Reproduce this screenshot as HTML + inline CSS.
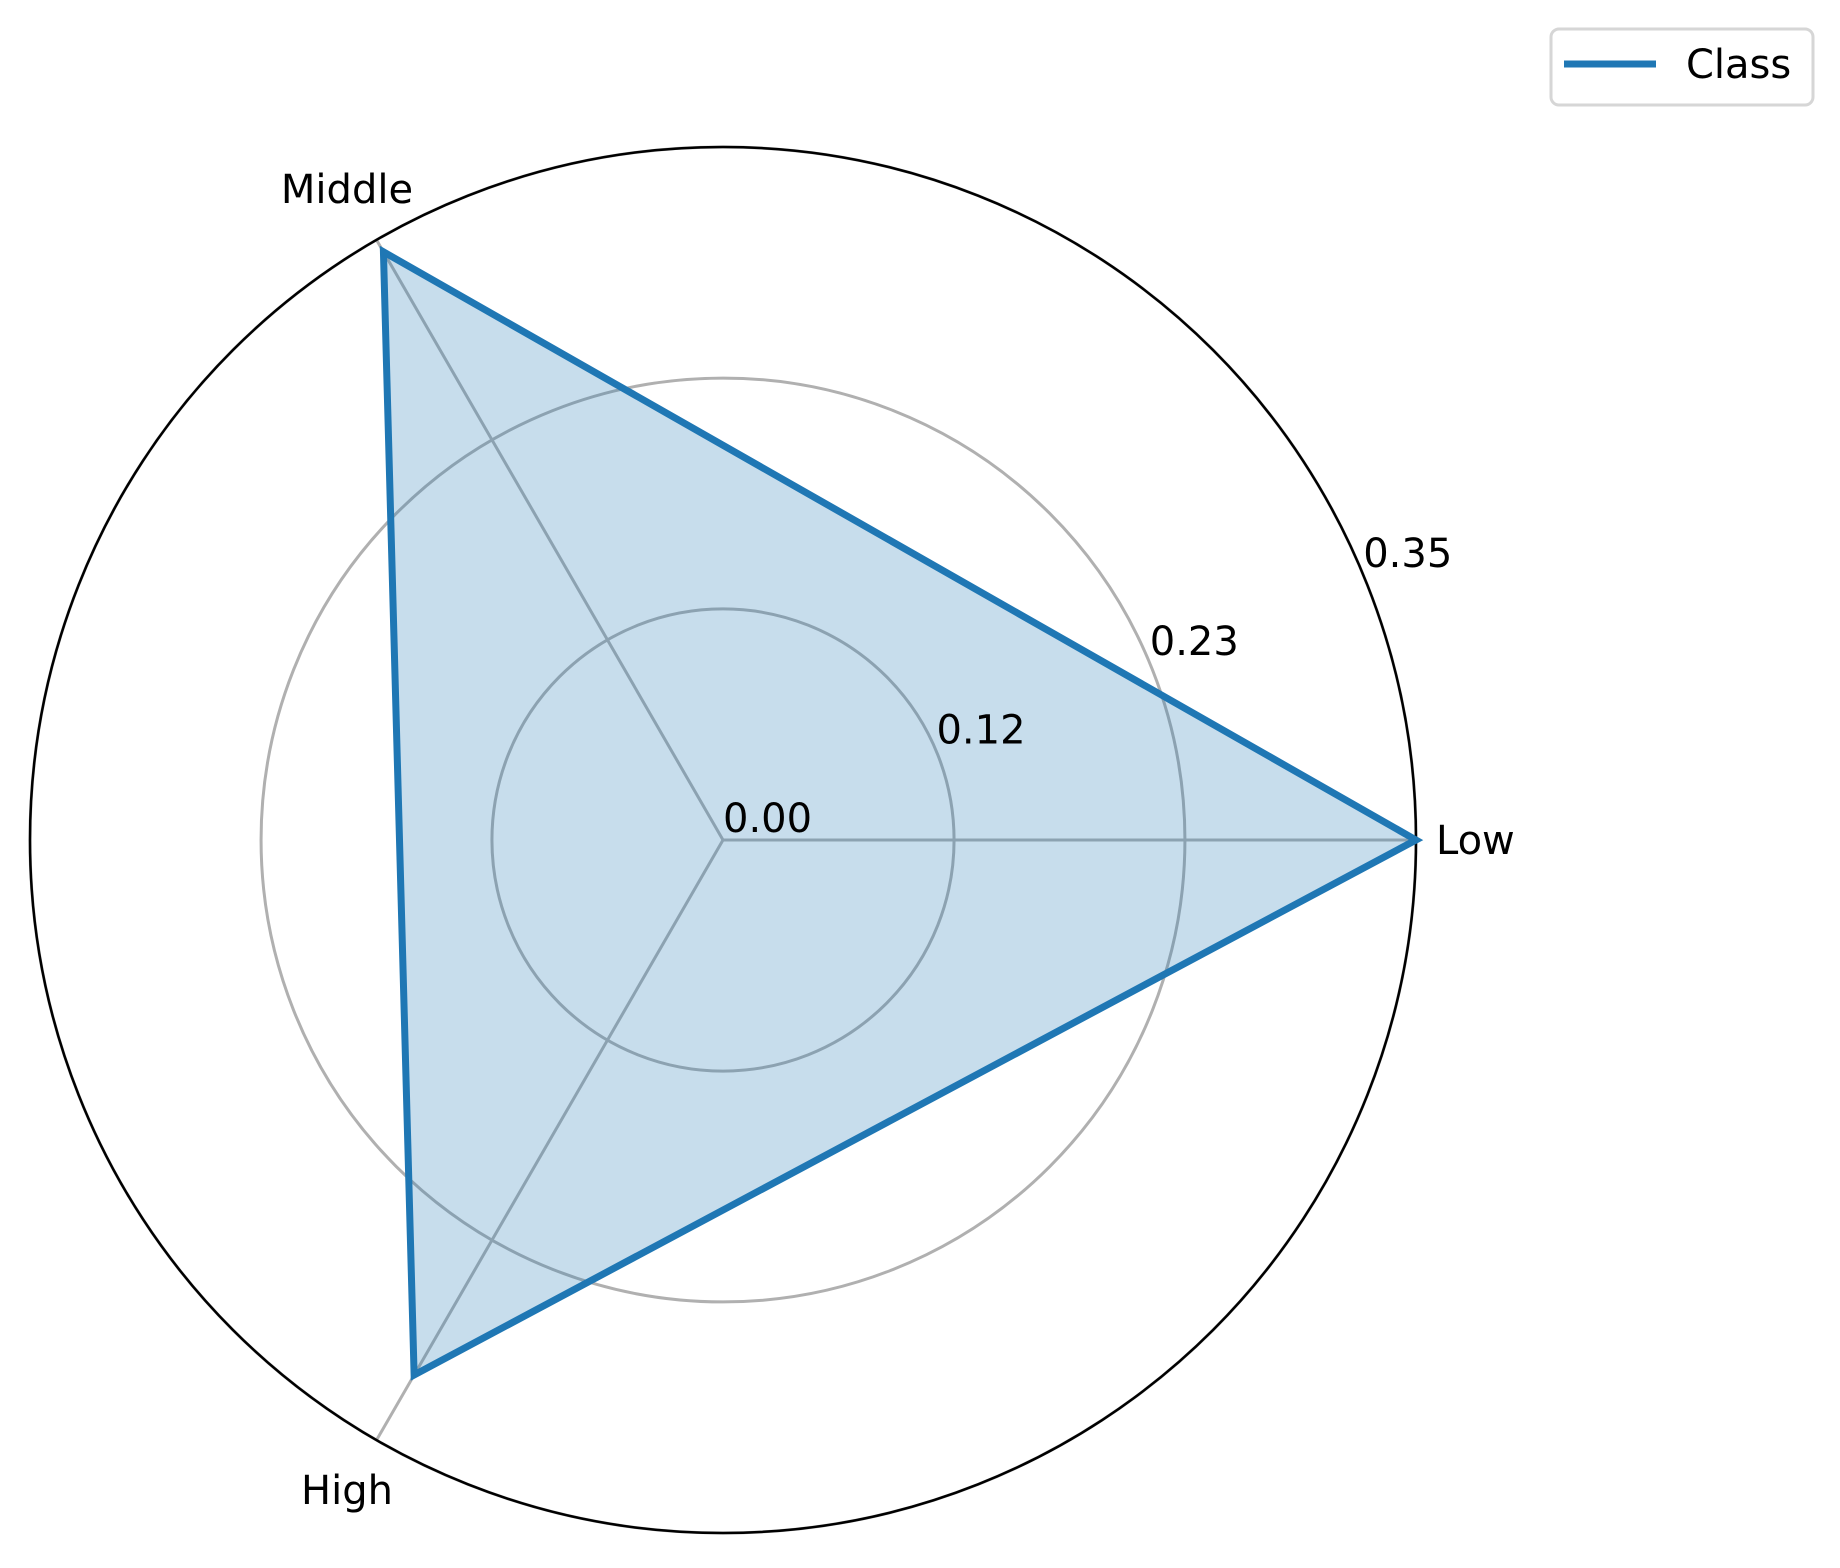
<!DOCTYPE html>
<html><head><meta charset="utf-8"><style>
body{margin:0;background:#fff}
svg text{font-family:"DejaVu Sans","Liberation Sans",sans-serif;fill:#000}
</style></head><body>
<svg id="chart" width="1840" height="1563" viewBox="0 0 1840 1563">
<g id="grid"></g>
<g id="series"></g>
<g id="labels"></g>
<g>
<rect x="1551" y="29" width="262" height="76" rx="8" fill="#fff" stroke="#d6d6d6" stroke-width="3"/>
<line x1="1564" y1="64" x2="1656" y2="64" stroke="#1f77b4" stroke-width="7"/>
<text x="1686" y="78" font-size="40">Class</text>
</g>
</svg>
<script>
const categories=["Low","Middle","High"];
const values=[0.35,0.343,0.312];
const ticks=[0,0.1167,0.2333,0.35];
const tickLabels=["0.00","0.12","0.23","0.35"];
const cx=723,cy=840,R=693,rmax=0.35;
const NS="http://www.w3.org/2000/svg";
function rs(v){return v/rmax*R;}
function ang(i){return i*2*Math.PI/categories.length;}
function pt(i,v){const a=ang(i);return [cx+rs(v)*Math.cos(a),cy-rs(v)*Math.sin(a)];}
function mk(tag,attrs,parent){const e=document.createElementNS(NS,tag);for(const k in attrs)e.setAttribute(k,attrs[k]);parent.appendChild(e);return e;}
const grid=document.getElementById('grid'),ser=document.getElementById('series'),lab=document.getElementById('labels');
ticks.forEach((t,j)=>{if(t<=0)return;
 const c=mk('circle',{cx:cx,cy:cy,r:rs(t),fill:'none',stroke:'#b0b0b0','stroke-width':3},grid);
 
 
});
categories.forEach((c,i)=>{const p=pt(i,rmax);
 const l=mk('line',{x1:cx,y1:cy,x2:p[0],y2:p[1],stroke:'#b0b0b0','stroke-width':3},grid);
 
 
});
const outer=mk('circle',{cx:cx,cy:cy,r:R,fill:'none',stroke:'#000','stroke-width':2.5},grid);


const pts=values.map((v,i)=>pt(i,v).join(',')).join(' ');
const poly=mk('polygon',{points:pts,fill:'#1f77b4','fill-opacity':0.25,stroke:'#1f77b4','stroke-width':7,'stroke-linejoin':'miter'},ser);


const a=22.5*Math.PI/180;
ticks.forEach((t,j)=>{const x=cx+rs(t)*Math.cos(a),y=cy-rs(t)*Math.sin(a);
 const tx=mk('text',{x:x,y:y-8,'font-size':40},lab);tx.textContent=tickLabels[j];
 
 
});
categories.forEach((c,i)=>{
 let anchor='middle',xx,yy;
 if(i===0){anchor='start';xx=cx+R+20;yy=cy+14;}
 else if(i===1){xx=347;yy=203;}
 else {xx=347;yy=1504;}
 const tx=mk('text',{x:xx,y:yy,'font-size':40,'text-anchor':anchor},lab);tx.textContent=c;
 
 
});
</script>
</body></html>
